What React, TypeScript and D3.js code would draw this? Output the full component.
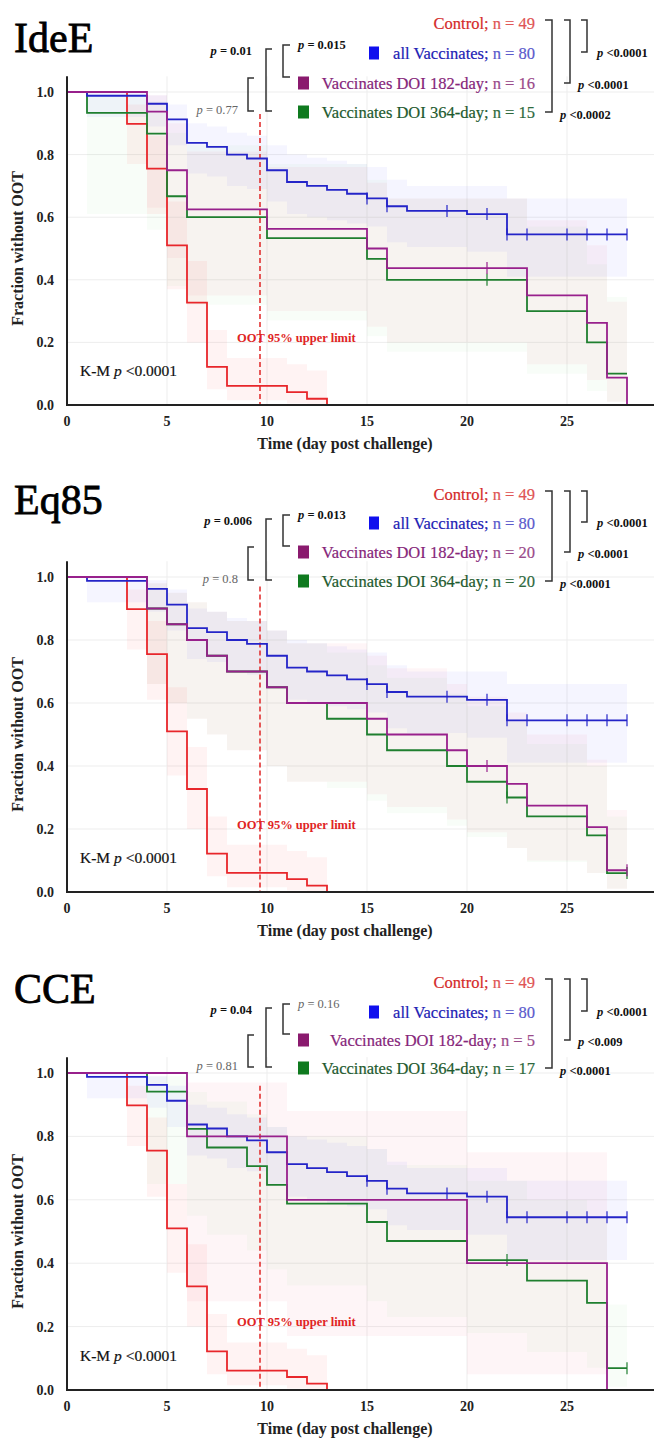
import React from "react";
import * as d3 from "d3";

const W = 654;
const H = 1447;

// ---------- data ----------
const panelTitles = ["IdeE", "Eq85", "CCE"];
const groupNames = ["Control", "all Vaccinates", "Vaccinates DOI 182-day", "Vaccinates DOI 364-day"];
const groupN = [
  [49, 80, 16, 15],
  [49, 80, 20, 20],
  [49, 80, 5, 17],
];
const ootLimitDay = 9.65;

// p-values: [all vs 364, all vs 182, 182 vs 364]
const pLeft = [
  [0.01, 0.015, 0.77],
  [0.006, 0.013, 0.8],
  [0.04, 0.16, 0.81],
];
// p-values: [control vs 364, control vs 182, control vs all]
const pRight = [
  ["<0.0002", "<0.0001", "<0.0001"],
  ["<0.0001", "<0.0001", "<0.0001"],
  ["<0.0001", "<0.009", "<0.0001"],
];

const controlTimes = [0, 3, 4, 5, 6, 7, 8, 11, 12, 13];
const controlSurv = [1, 0.898, 0.755, 0.51, 0.327, 0.122, 0.061, 0.041, 0.02, 0];
const controlLo = [1, 0.77, 0.61, 0.37, 0.2, 0.05, 0.015, 0.005, 0, 0];
const controlHi = [1, 0.96, 0.86, 0.65, 0.46, 0.24, 0.15, 0.13, 0.11, 0];
const controlCens: number[] = [];

const vacTimes = [0, 1, 4, 5, 6, 7, 8, 9, 10, 11, 12, 13, 14, 15, 16, 17, 20, 22];
const vacSurv = [1, 0.988, 0.9625, 0.9125, 0.8375, 0.825, 0.8, 0.7875, 0.75, 0.7125, 0.7, 0.6875, 0.675, 0.66, 0.635, 0.62, 0.61, 0.545];
const vacLo = [1, 0.92, 0.89, 0.83, 0.74, 0.73, 0.7, 0.69, 0.65, 0.61, 0.6, 0.59, 0.58, 0.57, 0.52, 0.505, 0.49, 0.41];
const vacHi = [1, 1.0, 0.99, 0.96, 0.9, 0.89, 0.87, 0.86, 0.83, 0.8, 0.79, 0.78, 0.77, 0.76, 0.72, 0.7, 0.7, 0.66];
const vacCens = [15, 16, 19, 21, 22, 23, 25, 26, 27, 28];

// IdeE
const ide182Times = [0, 4, 5, 6, 10, 15, 16, 23, 26, 27, 28];
const ide182Surv = [1, 0.9375, 0.75, 0.625, 0.5625, 0.5, 0.4375, 0.35, 0.2625, 0.0875, 0];
const ide182Lo = [1, 0.63, 0.47, 0.35, 0.3, 0.25, 0.2, 0.13, 0.08, 0.01, 0];
const ide182Hi = [1, 0.99, 0.9, 0.81, 0.76, 0.71, 0.66, 0.59, 0.51, 0.33, 0];
const ide182Cens = [21];

const ide364Times = [0, 1, 4, 5, 6, 10, 15, 16, 23, 26, 27];
const ide364Surv = [1, 0.933, 0.867, 0.667, 0.6, 0.533, 0.467, 0.4, 0.3, 0.2, 0.1];
const ide364Lo = [1, 0.61, 0.56, 0.38, 0.32, 0.27, 0.22, 0.17, 0.1, 0.045, 0.01];
const ide364Hi = [1, 0.99, 0.97, 0.87, 0.83, 0.77, 0.72, 0.66, 0.57, 0.45, 0.345];
const ide364Cens = [21];

// Eq85
const eq182Times = [0, 4, 5, 6, 7, 8, 10, 11, 15, 16, 19, 20, 22, 23, 26, 27];
const eq182Surv = [1, 0.9, 0.85, 0.8, 0.75, 0.7, 0.65, 0.6, 0.55, 0.5, 0.45, 0.4, 0.343, 0.274, 0.206, 0.069];
const eq182Lo = [1, 0.66, 0.6, 0.55, 0.5, 0.45, 0.4, 0.35, 0.31, 0.27, 0.23, 0.19, 0.14, 0.1, 0.06, 0.01];
const eq182Hi = [1, 0.98, 0.95, 0.92, 0.89, 0.86, 0.83, 0.79, 0.75, 0.71, 0.66, 0.62, 0.57, 0.5, 0.42, 0.26];
const eq182Cens = [21, 28];

const eq364Times = [0, 4, 5, 6, 7, 8, 10, 11, 13, 15, 16, 19, 20, 22, 23, 26, 27];
const eq364Surv = [1, 0.9, 0.85, 0.8, 0.75, 0.7, 0.65, 0.6, 0.55, 0.5, 0.45, 0.4, 0.35, 0.3, 0.24, 0.18, 0.06];
const eq364Lo = [1, 0.66, 0.6, 0.55, 0.5, 0.45, 0.4, 0.35, 0.33, 0.29, 0.25, 0.21, 0.175, 0.14, 0.095, 0.06, 0.01];
const eq364Hi = [1, 0.98, 0.95, 0.92, 0.89, 0.86, 0.83, 0.79, 0.76, 0.72, 0.68, 0.63, 0.59, 0.54, 0.47, 0.4, 0.24];
const eq364Cens = [22, 28];

// CCE
const cce182Times = [0, 6, 11, 20, 27];
const cce182Surv = [1, 0.8, 0.6, 0.4, 0];
const cce182Lo = [1, 0.28, 0.17, 0.05, 0];
const cce182Hi = [1, 0.97, 0.88, 0.75, 0];
const cce182Cens: number[] = [];

const cce364Times = [0, 4, 6, 7, 9, 10, 11, 15, 16, 20, 23, 26, 27];
const cce364Surv = [1, 0.941, 0.824, 0.765, 0.706, 0.647, 0.588, 0.53, 0.47, 0.41, 0.345, 0.275, 0.069];
const cce364Lo = [1, 0.65, 0.55, 0.49, 0.44, 0.38, 0.33, 0.28, 0.23, 0.18, 0.12, 0.07, 0.01];
const cce364Hi = [1, 0.99, 0.94, 0.91, 0.87, 0.83, 0.8, 0.76, 0.71, 0.66, 0.6, 0.54, 0.27];
const cce364Cens = [22, 28];

const kmP = "<0.0001";
const xTicks = [0, 5, 10, 15, 20, 25];
const yTicks = [0, 0.2, 0.4, 0.6, 0.8, 1.0];

// ---------- styling / layout ----------
const FONT = "'Liberation Serif', 'Times New Roman', serif";
const lineColors = ["#e8262b", "#2424c8", "#98208c", "#1f7f2f"];
const fillColors = ["rgba(255,90,90,0.075)", "rgba(110,110,255,0.065)", "rgba(235,110,140,0.065)", "rgba(90,200,100,0.045)"];
const textColors = ["#d42a2a", "#2222b4", "#86267a", "#1e5a2e"];
const nColors = ["#e05555", "#5a5acc", "#9a4a8a", "#2e6a3e"];
const squareColors = [null, "#1010ee", "#8a1a6e", "#0f7a1f"];

const layouts = [
  { y0: 405, y1: 92, rows: [23, 53, 83, 112], titleY: 52, dashTop: 0.93 },
  { y0: 892, y1: 577, rows: [494, 523, 552, 581], titleY: 514, dashTop: 0.97 },
  { y0: 1390, y1: 1073, rows: [982, 1012, 1040, 1068], titleY: 1003, dashTop: 0.96 },
];

const makeSeries = (times, surv, lo, hi, cens) => ({ times, surv, lo, hi, cens, end: 28 });
const control = { ...makeSeries(controlTimes, controlSurv, controlLo, controlHi, controlCens), end: 13 };
const vac = makeSeries(vacTimes, vacSurv, vacLo, vacHi, vacCens);
const panelSeries = [
  [control, vac, makeSeries(ide182Times, ide182Surv, ide182Lo, ide182Hi, ide182Cens), makeSeries(ide364Times, ide364Surv, ide364Lo, ide364Hi, ide364Cens)],
  [control, vac, makeSeries(eq182Times, eq182Surv, eq182Lo, eq182Hi, eq182Cens), makeSeries(eq364Times, eq364Surv, eq364Lo, eq364Hi, eq364Cens)],
  [control, vac, makeSeries(cce182Times, cce182Surv, cce182Lo, cce182Hi, cce182Cens), makeSeries(cce364Times, cce364Surv, cce364Lo, cce364Hi, cce364Cens)],
];

const xScale = d3.scaleLinear().domain([0, 29.35]).range([67, W]);

function PLabel({ x, y, text, anchor, sig }) {
  return (
    <text x={x} y={y} dy="0.35em" textAnchor={anchor} fontSize={12.5} fontWeight={sig ? "bold" : "normal"}
      fill={sig ? "#111" : "#666"}>
      <tspan fontStyle="italic">p</tspan>{text}
    </text>
  );
}

function Panel({ idx }) {
  const L = layouts[idx];
  const y = d3.scaleLinear().domain([0, 1]).range([L.y0, L.y1]);
  const series = panelSeries[idx];
  const r = L.rows;
  const axTop = y(1.05);

  const pts = (s) => {
    const p = s.times.map((t, i) => [t, s.surv[i], s.lo[i], s.hi[i]]);
    const k = s.times.length - 1;
    p.push([s.end, s.surv[k], s.lo[k], s.hi[k]]);
    return p;
  };
  const area = d3.area().curve(d3.curveStepAfter).x(d => xScale(d[0])).y0(d => y(d[2])).y1(d => y(d[3]));
  const line = d3.line().curve(d3.curveStepAfter).x(d => xScale(d[0])).y(d => y(d[1]));
  const drawOrder = [0, 3, 1, 2];
  const fmt = d3.format(".1f");
  const rb = (x, t, b, w) => `M${x - w},${t}H${x}V${b}H${x - w}`;
  const lb = (x, t, b, w) => `M${x + w},${t}H${x}V${b}H${x + w}`;
  const pl = pLeft[idx];
  const pr = pRight[idx];

  return (
    <g fontFamily={FONT}>
      {/* grid */}
      {xTicks.filter(t => t > 0).map(t => (
        <line key={"gx" + t} x1={xScale(t)} x2={xScale(t)} y1={axTop} y2={y(0)} stroke="#ededed" strokeWidth={1} />
      ))}
      {yTicks.filter(t => t > 0).map(t => (
        <line key={"gy" + t} x1={xScale(0)} x2={W} y1={y(t)} y2={y(t)} stroke="#ededed" strokeWidth={1} />
      ))}
      {/* CI bands */}
      {series.map((s, i) => (
        <path key={"ci" + i} d={area(pts(s))} fill={fillColors[i]} stroke="none" />
      ))}
      {/* OOT limit */}
      <line x1={xScale(ootLimitDay)} x2={xScale(ootLimitDay)} y1={y(L.dashTop)} y2={y(0)} stroke="#e02424"
        strokeWidth={1.5} strokeDasharray="5,3" />
      <text x={xScale(ootLimitDay) - 23} y={y(0.215)} dy="0.35em" fontSize={12.5} fontWeight="bold" fill="#e02424">
        OOT 95% upper limit
      </text>
      {/* curves */}
      {drawOrder.map(i => {
        const s = series[i];
        return (
          <g key={"c" + i}>
            <path d={line(pts(s))} fill="none" stroke={lineColors[i]} strokeWidth={1.8} />
            {s.cens.map(c => {
              const v = s.surv[d3.bisectRight(s.times, c) - 1];
              return <line key={c} x1={xScale(c)} x2={xScale(c)} y1={y(v) - 6} y2={y(v) + 6} stroke={lineColors[i]} strokeWidth={1.2} />;
            })}
          </g>
        );
      })}
      {/* axes */}
      <line x1={xScale(0)} x2={xScale(0)} y1={axTop} y2={y(0) + 1} stroke="#222" strokeWidth={2} />
      <line x1={xScale(0)} x2={W} y1={y(0)} y2={y(0)} stroke="#222" strokeWidth={2} />
      {yTicks.map(t => (
        <text key={"yt" + t} x={54} y={y(t)} dy="0.35em" textAnchor="end" fontSize={14} fontWeight="bold" fill="#222">{fmt(t)}</text>
      ))}
      {xTicks.map(t => (
        <text key={"xt" + t} x={xScale(t)} y={y(0) + 21} textAnchor="middle" fontSize={14} fontWeight="bold" fill="#222">{t}</text>
      ))}
      <text x={345} y={y(0) + 44} textAnchor="middle" fontSize={16} fontWeight="bold" fill="#222">Time (day post challenge)</text>
      <text transform={`translate(23,${(y(0) + y(1)) / 2}) rotate(-90)`} textAnchor="middle" fontSize={16} fontWeight="bold" fill="#222">
        Fraction without OOT
      </text>
      <text x={80} y={y(0.11)} dy="0.35em" fontSize={15.5} fill="#111" stroke="#111" strokeWidth={0.2}>
        K-M <tspan fontStyle="italic">p</tspan> {kmP}
      </text>
      {/* title */}
      <text x={14} y={L.titleY} fontSize={42} fill="#000" stroke="#000" strokeWidth={0.8}>{panelTitles[idx]}</text>
      {/* legend */}
      {groupNames.map((g, i) => (
        <text key={"lg" + i} x={535} y={r[i]} dy="0.35em" textAnchor="end" fontSize={16.5} fill={textColors[i]}
          stroke={textColors[i]} strokeWidth={0.2}>
          {g};<tspan fill={nColors[i]} stroke={nColors[i]}> n = {groupN[idx][i]}</tspan>
        </text>
      ))}
      <rect x={369} y={r[1] - 6.5} width={10} height={13} fill={squareColors[1]} />
      <rect x={298} y={r[2] - 6.5} width={11} height={13} fill={squareColors[2]} />
      <rect x={298} y={r[3] - 6.5} width={11} height={13} fill={squareColors[3]} />
      {/* brackets */}
      <g fill="none" stroke="#333" strokeWidth={1.5}>
        <path d={rb(552, r[0] - 3, r[3], 7)} />
        <path d={rb(570, r[0] - 3, r[2], 6)} />
        <path d={rb(587, r[0] - 3, r[1] - 1, 6)} />
        <path d={lb(266, r[1] - 4, r[3] - 1, 6)} />
        <path d={lb(283, r[1] - 8, r[2] - 6, 7)} />
        <path d={lb(248, r[2] - 5, r[3] - 1, 6)} />
      </g>
      <PLabel x={560} y={r[3] + 3} text={" " + pr[0]} anchor="start" sig={true} />
      <PLabel x={578} y={r[2] + 2} text={" " + pr[1]} anchor="start" sig={true} />
      <PLabel x={597} y={r[1]} text={" " + pr[2]} anchor="start" sig={true} />
      <PLabel x={252} y={r[1] - 2} text={" = " + pl[0]} anchor="end" sig={pl[0] < 0.05} />
      <PLabel x={298} y={r[1] - 8} text={" = " + pl[1]} anchor="start" sig={pl[1] < 0.05} />
      <PLabel x={238} y={r[3] - 2} text={" = " + pl[2]} anchor="end" sig={pl[2] < 0.05} />
    </g>
  );
}

export default function App() {
  return (
    <svg width={W} height={H} style={{ position: "absolute", left: 0, top: 0, background: "#fff" }}>
      <rect x={0} y={0} width={W} height={H} fill="#fff" />
      {panelTitles.map((t, i) => <Panel key={t} idx={i} />)}
    </svg>
  );
}
